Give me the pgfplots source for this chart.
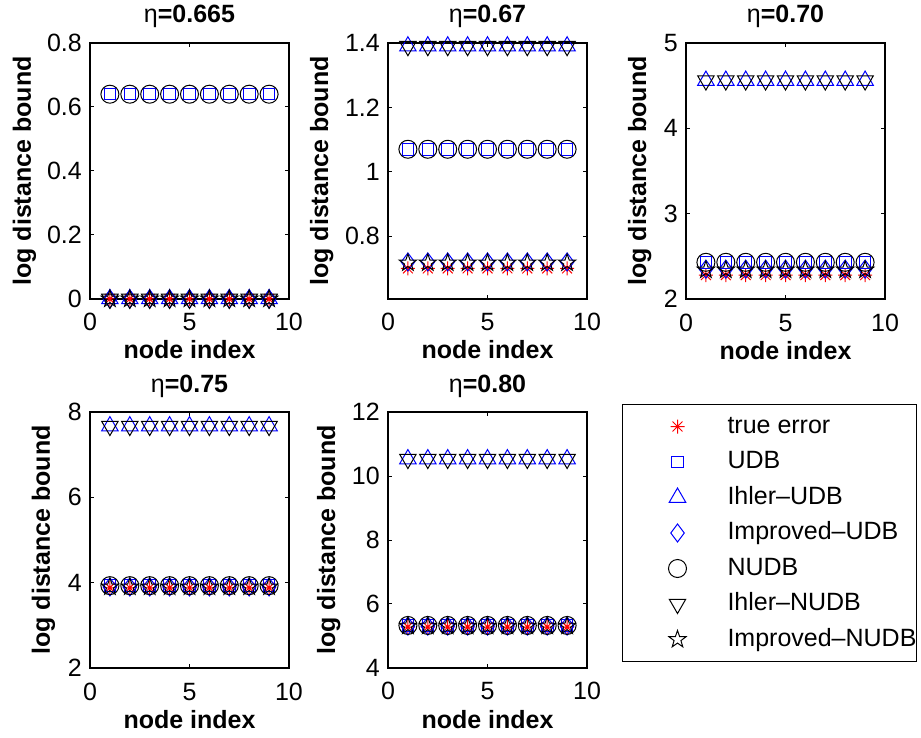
\documentclass[border=0pt]{standalone}
\usepackage{fontspec}
\setmainfont{Liberation Sans}
\usepackage{pgfplots}
\usepackage{pgfplotstable}
\pgfplotsset{compat=1.18}

% MATLAB-like markers: '*' (8 spokes) and 'p' (open pentagram)
\pgfdeclareplotmark{mstar}{%
  \pgfpathmoveto{\pgfqpoint{0pt}{\pgfplotmarksize}}\pgfpathlineto{\pgfqpoint{0pt}{-\pgfplotmarksize}}%
  \pgfpathmoveto{\pgfqpoint{\pgfplotmarksize}{0pt}}\pgfpathlineto{\pgfqpoint{-\pgfplotmarksize}{0pt}}%
  \pgfpathmoveto{\pgfpointpolar{45}{\pgfplotmarksize}}\pgfpathlineto{\pgfpointpolar{225}{\pgfplotmarksize}}%
  \pgfpathmoveto{\pgfpointpolar{135}{\pgfplotmarksize}}\pgfpathlineto{\pgfpointpolar{315}{\pgfplotmarksize}}%
  \pgfusepathqstroke}
\pgfdeclareplotmark{pentagram}{%
  \pgfpathmoveto{\pgfpointpolar{90}{\pgfplotmarksize}}%
  \pgfpathlineto{\pgfpointpolar{126}{0.4\pgfplotmarksize}}%
  \pgfpathlineto{\pgfpointpolar{162}{\pgfplotmarksize}}%
  \pgfpathlineto{\pgfpointpolar{198}{0.4\pgfplotmarksize}}%
  \pgfpathlineto{\pgfpointpolar{234}{\pgfplotmarksize}}%
  \pgfpathlineto{\pgfpointpolar{270}{0.4\pgfplotmarksize}}%
  \pgfpathlineto{\pgfpointpolar{306}{\pgfplotmarksize}}%
  \pgfpathlineto{\pgfpointpolar{342}{0.4\pgfplotmarksize}}%
  \pgfpathlineto{\pgfpointpolar{18}{\pgfplotmarksize}}%
  \pgfpathlineto{\pgfpointpolar{54}{0.4\pgfplotmarksize}}%
  \pgfpathclose\pgfusepathqstroke}

\tikzset{
  s1/.style={only marks, red, mark=mstar, mark size=7pt, line width=1pt},
  s2/.style={only marks, blue, mark=square, mark size=5.8pt, line width=1pt},
  s3/.style={only marks, blue, mark=triangle, mark size=9.5pt, line width=1pt},
  s4/.style={only marks, blue, mark=diamond, mark size=9pt, line width=1pt},
  s5/.style={only marks, black, mark=o, mark size=9pt, line width=1pt},
  s6/.style={only marks, black, mark=triangle, mark size=9.5pt, mark options={rotate=180}, line width=1pt},
  s7/.style={only marks, black, mark=pentagram, mark size=9pt, line width=1pt},
}

\pgfplotsset{
  mlab/.style={
    scale only axis, width=199pt, height=256pt, anchor=north west,
    xmin=0, xmax=10, xtick={0,5,10},
    tick align=inside, major tick length=4pt,
    axis line style={line width=1.1pt}, tick style={line width=1pt, black},
    clip=false,
    font=\fontsize{25}{30}\selectfont,
    /pgf/number format/assume math mode=true,
    xticklabel style={anchor=base, yshift=-32pt, inner sep=0pt},
    yticklabel style={anchor=east, inner sep=0pt, xshift=-8pt},
    title style={at={(0.5,1)}, anchor=base, yshift=14pt, inner sep=0pt,
      font=\fontsize{25}{30}\selectfont\bfseries},
    xlabel={node index}, ylabel={log distance bound},
    label style={font=\fontsize{25}{30}\selectfont\bfseries},
    xlabel style={at={(axis description cs:0.5,0)}, anchor=base, yshift=-60pt, inner sep=0pt},
  },
}

\pgfplotstableread{
x te udb iudb impudb nudb inudb impnudb
1 0 0.64 0 0 0.64 0 0
2 0 0.64 0 0 0.64 0 0
3 0 0.64 0 0 0.64 0 0
4 0 0.64 0 0 0.64 0 0
5 0 0.64 0 0 0.64 0 0
6 0 0.64 0 0 0.64 0 0
7 0 0.64 0 0 0.64 0 0
8 0 0.64 0 0 0.64 0 0
9 0 0.64 0 0 0.64 0 0
}\tabA
\pgfplotstableread{
x te udb iudb impudb nudb inudb impnudb
1 0.70 1.07 1.39 0.72 1.07 1.39 0.717
2 0.70 1.07 1.39 0.72 1.07 1.39 0.717
3 0.70 1.07 1.39 0.72 1.07 1.39 0.717
4 0.70 1.07 1.39 0.72 1.07 1.39 0.717
5 0.70 1.07 1.39 0.72 1.07 1.39 0.717
6 0.70 1.07 1.39 0.72 1.07 1.39 0.717
7 0.70 1.07 1.39 0.72 1.07 1.39 0.717
8 0.70 1.07 1.39 0.72 1.07 1.39 0.717
9 0.70 1.07 1.39 0.72 1.07 1.39 0.717
}\tabB
\pgfplotstableread{
x te udb iudb impudb nudb inudb impnudb
1 2.28 2.43 4.56 2.35 2.43 4.56 2.34
2 2.28 2.43 4.56 2.35 2.43 4.56 2.34
3 2.28 2.43 4.56 2.35 2.43 4.56 2.34
4 2.28 2.43 4.56 2.35 2.43 4.56 2.34
5 2.28 2.43 4.56 2.35 2.43 4.56 2.34
6 2.28 2.43 4.56 2.35 2.43 4.56 2.34
7 2.28 2.43 4.56 2.35 2.43 4.56 2.34
8 2.28 2.43 4.56 2.35 2.43 4.56 2.34
9 2.28 2.43 4.56 2.35 2.43 4.56 2.34
}\tabC
\pgfplotstableread{
x te udb iudb impudb nudb inudb impnudb
1 3.88 3.93 7.67 3.90 3.93 7.67 3.90
2 3.88 3.93 7.67 3.90 3.93 7.67 3.90
3 3.88 3.93 7.67 3.90 3.93 7.67 3.90
4 3.88 3.93 7.67 3.90 3.93 7.67 3.90
5 3.88 3.93 7.67 3.90 3.93 7.67 3.90
6 3.88 3.93 7.67 3.90 3.93 7.67 3.90
7 3.88 3.93 7.67 3.90 3.93 7.67 3.90
8 3.88 3.93 7.67 3.90 3.93 7.67 3.90
9 3.88 3.93 7.67 3.90 3.93 7.67 3.90
}\tabD
\pgfplotstableread{
x te udb iudb impudb nudb inudb impnudb
1 5.28 5.33 10.53 5.31 5.33 10.53 5.31
2 5.28 5.33 10.53 5.31 5.33 10.53 5.31
3 5.28 5.33 10.53 5.31 5.33 10.53 5.31
4 5.28 5.33 10.53 5.31 5.33 10.53 5.31
5 5.28 5.33 10.53 5.31 5.33 10.53 5.31
6 5.28 5.33 10.53 5.31 5.33 10.53 5.31
7 5.28 5.33 10.53 5.31 5.33 10.53 5.31
8 5.28 5.33 10.53 5.31 5.33 10.53 5.31
9 5.28 5.33 10.53 5.31 5.33 10.53 5.31
}\tabE

\newcommand{\allseries}[1]{%
  \addplot[s1] table[x=x, y=te] {#1};
  \addplot[s2] table[x=x, y=udb] {#1};
  \addplot[s3] table[x=x, y=iudb] {#1};
  \addplot[s4] table[x=x, y=impudb] {#1};
  \addplot[s5] table[x=x, y=nudb] {#1};
  \addplot[s6] table[x=x, y=inudb] {#1};
  \addplot[s7] table[x=x, y=impnudb] {#1};
}

\begin{document}
\begin{tikzpicture}
\useasboundingbox (0pt,0pt) rectangle (921pt,-738pt);

\begin{axis}[mlab, at={(90pt,-43pt)},
  title={{\mdseries η}=0.665},
  ymin=0, ymax=0.8, ytick={0,0.2,0.4,0.6,0.8},
  ylabel style={at={(axis description cs:-0.2965,0.5)}, anchor=base, inner sep=0pt}]
\allseries{\tabA}
\end{axis}

\begin{axis}[mlab, at={(388pt,-43pt)},
  title={{\mdseries η}=0.67},
  ymin=0.605, ymax=1.4, ytick={0.8,1,1.2,1.4},
  ylabel style={at={(axis description cs:-0.3015,0.5)}, anchor=base, inner sep=0pt}]
\allseries{\tabB}
\end{axis}

\begin{axis}[mlab, at={(686pt,-43pt)},
  title={{\mdseries η}=0.70},
  ymin=2, ymax=5, ytick={2,3,4,5},
  ylabel style={at={(axis description cs:-0.201,0.5)}, anchor=base, inner sep=0pt}]
\allseries{\tabC}
\end{axis}

\begin{axis}[mlab, at={(90pt,-412pt)},
  title={{\mdseries η}=0.75},
  ymin=2, ymax=8, ytick={2,4,6,8},
  ylabel style={at={(axis description cs:-0.201,0.5)}, anchor=base, inner sep=0pt}]
\allseries{\tabD}
\end{axis}

\begin{axis}[mlab, at={(388pt,-412pt)},
  title={{\mdseries η}=0.80},
  ymin=4, ymax=12, ytick={4,6,8,10,12},
  ylabel style={at={(axis description cs:-0.266,0.5)}, anchor=base, inner sep=0pt}]
\allseries{\tabE}
\end{axis}

% legend holder
\begin{axis}[hide axis, scale only axis, width=10pt, height=10pt,
  at={(622pt,-404pt)}, anchor=north west,
  xmin=0, xmax=1, ymin=0, ymax=1,
  font=\fontsize{25}{30}\selectfont,
  legend cell align=left,
  legend image code/.code={\path[draw=none, fill=none] (0pt,-3pt) rectangle (70pt,3pt); \draw[fill=none, #1] plot coordinates {(55pt,0pt)};},
  legend style={at={(0,1)}, anchor=north west, draw=black, line width=1pt, fill=white,
    inner xsep=0pt, inner ysep=10.5pt, row sep=12.5pt, column sep=35pt,
    nodes={inner sep=0pt, text height=18pt, text depth=5pt, anchor=west}}]
\addlegendimage{s1}
\addlegendimage{s2}
\addlegendimage{s3}
\addlegendimage{s4}
\addlegendimage{s5}
\addlegendimage{s6}
\addlegendimage{s7}
\legend{true error, UDB, Ihler–UDB, Improved–UDB, NUDB, Ihler–NUDB, Improved–NUDB}
\end{axis}
\end{tikzpicture}
\end{document}
